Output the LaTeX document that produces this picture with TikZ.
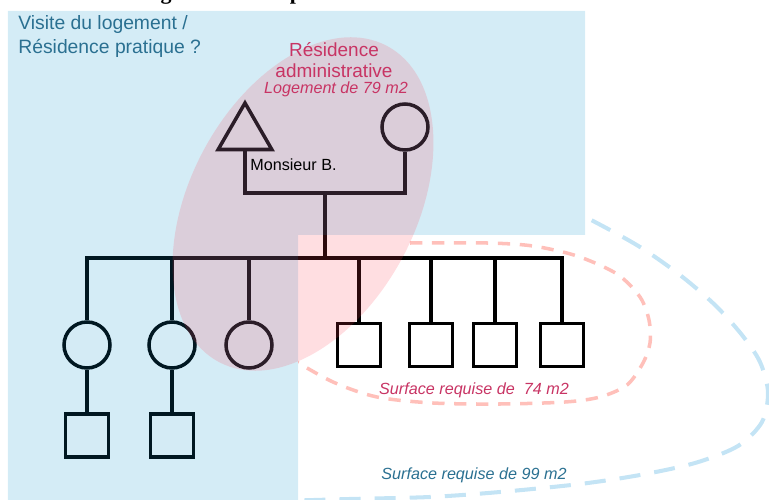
\documentclass[tikz,border=0pt]{standalone}
\usepackage{fontspec}
\setmainfont{Liberation Sans}
\newfontfamily\titrefont{Liberation Serif}
\usetikzlibrary{shapes.geometric, positioning}

\definecolor{fondbleu}{RGB}{0,140,200}
\definecolor{fondrose}{RGB}{255,60,80}
\definecolor{tiretrose}{RGB}{255,192,186}
\definecolor{tiretbleu}{RGB}{196,228,245}
\definecolor{textebleu}{RGB}{42,112,145}
\definecolor{texterose}{RGB}{200,52,100}

\begin{document}
\begin{tikzpicture}[
        x=0.02cm, y=-0.02cm,
        lien/.style={line width=2pt},
        homme/.style={rectangle, draw, line width=2pt, minimum size=0.86cm, inner sep=0pt, fill=white},
        femme/.style={circle, draw, line width=2pt, minimum size=0.92cm, inner sep=0pt, fill=white},
        ego/.style={regular polygon, regular polygon sides=3, draw, line width=2pt, minimum size=1.24cm, inner sep=0pt, fill=white},
        zone/.style={fill opacity=0.17},
        tirets/.style={line width=2pt, dash pattern=on 7pt off 5.5pt},
        legende/.style={font=\fontsize{9.2}{11}\selectfont\itshape, inner sep=0pt}
    ]
        \useasboundingbox (0,0) rectangle (769,500);

        % Titre (coupe)
        \node[font=\fontsize{12.5}{14}\selectfont\titrefont\bfseries, anchor=base, inner sep=0pt] (titreg) at (166,0) {g};
        \node[font=\fontsize{12.5}{14}\selectfont\titrefont\bfseries, anchor=base, inner sep=0pt] (titrep) at (296,0) {p};

        % Parents
        \node[ego] (mrB) at (245,134) {};
        \node[femme] (mmeB) at (405,127) {};
        \coordinate (union) at (325,193);
        \coordinate (fratrie) at (325,258);

        % Enfants
        \node[femme] (fille1) at (87,345) {};
        \node[femme] (fille2) at (172,345) {};
        \node[femme] (fille3) at (249,345) {};
        \node[homme] (fils1) at (359,345) {};
        \node[homme] (fils2) at (431,345) {};
        \node[homme] (fils3) at (495,345) {};
        \node[homme] (fils4) at (562,345) {};

        % Petits-enfants
        \node[homme, below=0.85cm of fille1] (petit1) {};
        \node[homme, below=0.85cm of fille2] (petit2) {};

        % Liens
        \draw[lien] (mrB.side 2) |- (union) -| (mmeB.south);
        \draw[lien] (union) -- (fratrie);
        \draw[lien] (fille1.north) |- (fratrie) -| (fils4.north);
        \foreach \n in {fille2, fille3, fils1, fils2, fils3}
            \draw[lien] (\n.north) -- (\n.north |- fratrie);
        \draw[lien] (fille1) -- (petit1);
        \draw[lien] (fille2) -- (petit2);

        % Surfaces requises
        \begin{scope}
            \clip (298,235) -- (585,235) -- (585,0) -- (769,0) -- (769,500) -- (298,500) -- cycle;
            \draw[tirets, tiretrose] plot[smooth] coordinates {(410,243) (487,243) (533,246) (577,256) (617,274) (640,297) (649,320) (650,343) (643,363) (627,385) (600,397) (565,402) (500,404) (433,403) (377,397) (333,382) (290,358)};
            \draw[tirets, tiretbleu, line width=2.3pt, dash pattern=on 12pt off 8pt] plot[smooth] coordinates {(560,205) (595,222) (640,247) (680,275) (715,305) (742,335) (760,362) (768,392) (762,422) (738,446) (695,463) (640,475) (580,484) (500,492) (430,497) (350,499) (280,501)};
        \end{scope}

        % Residences
        \fill[zone, fondbleu] (8,11) -- (585,11) -- (585,235) -- (298,235) -- (298,500) -- (8,500) -- cycle;
        \fill[zone, fondrose, rotate around={62:(303,204)}] (303,204) ellipse [x radius=179, y radius=113];

        % Textes
        \node[textebleu, align=left, anchor=north west, font=\fontsize{11}{13.6}\selectfont, inner sep=0pt] (pratique) at (18,15) {Visite du logement /\\Résidence pratique ?};
        \node[texterose, align=center, anchor=north, font=\fontsize{10.8}{12.3}\selectfont, inner sep=0pt] (admin) at (334,42) {Résidence\\administrative};
        \node[legende, texterose, anchor=base] (logement) at (336,94) {Logement de 79 m2};
        \node[font=\fontsize{9.2}{11}\selectfont, anchor=base west, inner sep=0pt] (nomB) at (250,171) {Monsieur B.};
        \node[legende, texterose, anchor=base] (surf74) at (474,395) {Surface requise de\ \ 74 m2};
        \node[legende, textebleu, anchor=base] (surf99) at (474,480) {Surface requise de 99 m2};

    \end{tikzpicture}
\end{document}
